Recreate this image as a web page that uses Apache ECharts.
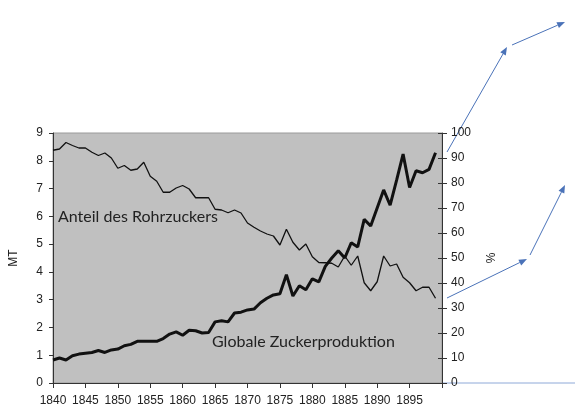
<!DOCTYPE html>
<html><head><meta charset="utf-8">
<script src="https://cdn.jsdelivr.net/npm/echarts@6/dist/echarts.min.js"></script>
<style>html,body{margin:0;padding:0;background:#fff;}#c{width:584px;height:415px;}</style>
</head><body><div id="c"></div>
<script>
const years = [];
for (let y = 1840; y <= 1899; y++) years.push(y);
const production = [0.83,0.90,0.83,0.98,1.04,1.07,1.10,1.17,1.10,1.19,
  1.22,1.34,1.39,1.50,1.50,1.50,1.50,1.60,1.76,1.84,
  1.72,1.90,1.88,1.80,1.82,2.20,2.24,2.20,2.52,2.55,
  2.63,2.66,2.89,3.05,3.17,3.21,3.90,3.13,3.50,3.36,
  3.75,3.64,4.20,4.50,4.76,4.50,5.05,4.90,5.89,5.65,
  6.30,6.95,6.40,7.30,8.24,7.04,7.64,7.57,7.69,8.29];
const caneShare = [93.1,93.6,96.2,95.0,94.0,94.0,92.3,91.0,92.0,90.0,
  85.9,87.0,85.1,85.6,88.3,82.7,80.7,76.3,76.3,78.0,
  79.0,77.6,74.1,74.1,74.1,69.5,69.2,68.1,69.2,68.0,
  64.0,62.3,60.8,59.6,58.8,55.2,61.5,56.3,53.2,55.6,
  50.5,48.2,48.1,47.9,46.4,50.8,47.1,50.8,40.1,36.9,
  40.5,50.8,46.8,47.6,42.3,40.1,36.9,38.3,38.3,33.9];
const seriesNames = ['Globale Zuckerproduktion', 'Anteil des Rohrzuckers'];

const chart = echarts.init(document.getElementById('c'), null, {renderer: 'canvas'});
const lab = {color: '#222', fontFamily: 'Liberation Sans, Arial, sans-serif', fontSize: 12};
const blue = '#4a72b8';
function arrow(x1, y1, x2, y2, color) {
  const a = Math.atan2(y2 - y1, x2 - x1), L = 8, W = 3.2;
  const bx = x2 - L * Math.cos(a), by = y2 - L * Math.sin(a);
  return [
    {type: 'line', shape: {x1: x1, y1: y1, x2: bx, y2: by}, style: {stroke: color, lineWidth: 1}},
    {type: 'polygon', shape: {points: [[x2, y2],
      [bx + W * Math.sin(a), by - W * Math.cos(a)],
      [bx - W * Math.sin(a), by + W * Math.cos(a)]]}, style: {fill: color}}
  ];
}
const graphics = [].concat(
  arrow(447, 152, 507, 47, blue),
  arrow(512, 45, 565, 22, blue),
  arrow(447, 298, 527, 259, blue),
  arrow(530, 255, 565, 185, blue),
  [{type: 'line', shape: {x1: 443, y1: 383, x2: 575, y2: 383}, style: {stroke: '#8ea9d8', lineWidth: 1}},
   {type: 'text', left: 58, top: 209, style: {text: seriesNames[1], fill: '#222', font: '16px Lato, "Open Sans", sans-serif'}},
   {type: 'text', left: 212, top: 334, style: {text: seriesNames[0], fill: '#222', font: '16px Lato, "Open Sans", sans-serif'}}]
);

chart.setOption({
  animation: false,
  grid: {left: 45, right: 142, top: 133, bottom: 32, show: true, backgroundColor: '#c0c0c0', borderColor: '#9a9a9a', borderWidth: 1},
  xAxis: {
    type: 'value', min: 1840, max: 1900, interval: 5,
    axisLine: {lineStyle: {color: '#333', width: 1}},
    axisTick: {show: true, length: 5, lineStyle: {color: '#333'}},
    splitLine: {show: false},
    axisLabel: Object.assign({margin: 12, formatter: v => v === 1900 ? '' : String(v)}, lab)
  },
  yAxis: [
    {type: 'value', min: 0, max: 9, interval: 1, position: 'left',
     name: 'MT', nameLocation: 'middle', nameGap: 33, nameRotate: 90,
     nameTextStyle: {color: '#222', fontFamily: 'Liberation Sans, Arial, sans-serif', fontSize: 12},
     axisLine: {show: true, lineStyle: {color: '#333'}},
     axisTick: {show: true, length: 4, lineStyle: {color: '#333'}},
     splitLine: {show: false},
     axisLabel: Object.assign({margin: 10}, lab)},
    {type: 'value', min: 0, max: 100, interval: 10, position: 'right',
     name: '%', nameLocation: 'middle', nameGap: 44, nameRotate: 90,
     nameTextStyle: {color: '#222', fontFamily: 'Liberation Sans, Arial, sans-serif', fontSize: 12},
     axisLine: {show: true, lineStyle: {color: '#333'}},
     axisTick: {show: true, length: 5, lineStyle: {color: '#333'}},
     splitLine: {show: false},
     axisLabel: Object.assign({margin: 9}, lab)},
    {type: 'value', min: 0, max: 100, interval: 10, position: 'right',
     axisLine: {show: false},
     axisTick: {show: true, inside: true, length: 4, lineStyle: {color: '#333'}},
     splitLine: {show: false},
     axisLabel: {show: false}}
  ],
  series: [
    {name: seriesNames[0], type: 'line', yAxisIndex: 0, showSymbol: false, symbol: 'none',
     lineStyle: {color: '#111', width: 3}, data: years.map((y, i) => [y, production[i]])},
    {name: seriesNames[1], type: 'line', yAxisIndex: 1, showSymbol: false, symbol: 'none',
     lineStyle: {color: '#111', width: 1.3}, data: years.map((y, i) => [y, caneShare[i]])}
  ],
  graphic: graphics
});
</script></body></html>
